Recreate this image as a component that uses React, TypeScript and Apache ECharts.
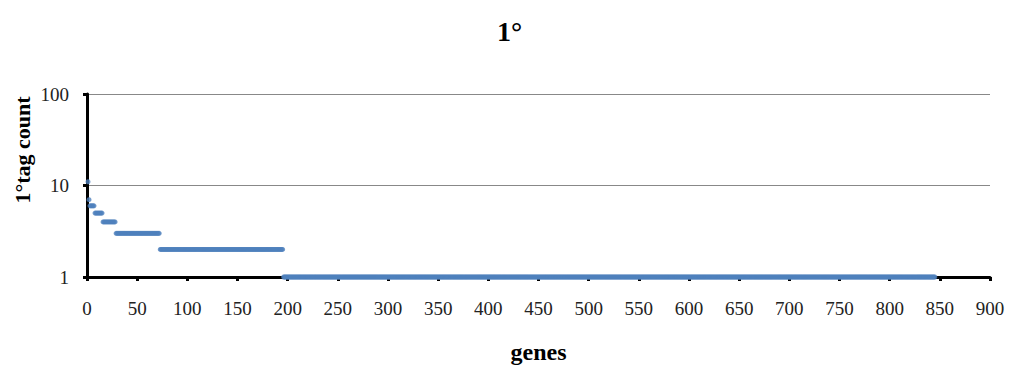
import React, { useEffect, useRef } from "react";
import * as echarts from "echarts";

// Tag-count runs: genes ranked by count
const runCounts = [11, 7, 6, 5, 4, 3, 2, 1];
const runFirstRank = [1, 2, 3, 8, 16, 29, 73, 196];
const runLastRank = [1, 2, 7, 15, 28, 72, 195, 845];
const xTicks = [0, 50, 100, 150, 200, 250, 300, 350, 400, 450, 500, 550, 600, 650, 700, 750, 800, 850, 900];
const yTicks = [1, 10, 100];

export default function App() {
  const ref = useRef<HTMLDivElement>(null);
  useEffect(() => {
    if (!ref.current) return;
    const chart = echarts.init(ref.current, null, { renderer: "svg" });
    const points: number[][] = [];
    runCounts.forEach((c, i) => {
      for (let r = runFirstRank[i]; r <= runLastRank[i]; r++) points.push([r, c]);
    });
    const serif = "'Liberation Serif', 'Times New Roman', serif";
    chart.setOption({
      animation: false,
      backgroundColor: "#ffffff",
      title: {
        text: "1°",
        left: 492,
        top: 12,
        textStyle: { fontFamily: serif, fontSize: 28, fontWeight: "bold", color: "#000" },
      },
      graphic: [
        {
          type: "text",
          x: 22,
          y: 150,
          rotation: Math.PI / 2,
          style: {
            text: "1°tag count",
            fontFamily: serif,
            fontSize: 22,
            fontWeight: "bold",
            fill: "#000",
            align: "center",
            verticalAlign: "middle",
          },
        },
      ],
      grid: { left: 87, right: 21, top: 94, bottom: 93, containLabel: false },
      xAxis: {
        type: "value",
        min: xTicks[0],
        max: xTicks[xTicks.length - 1],
        interval: 50,
        name: "genes",
        nameLocation: "middle",
        nameGap: 63,
        nameTextStyle: { fontFamily: serif, fontSize: 24, fontWeight: "bold", color: "#000" },
        axisLine: { lineStyle: { color: "#000", width: 3 } },
        axisTick: { show: true, length: 4, lineStyle: { color: "#000", width: 3 } },
        axisLabel: { fontFamily: serif, fontSize: 19, color: "#222", margin: 22 },
        splitLine: { show: false },
      },
      yAxis: {
        type: "log",
        logBase: 10,
        min: yTicks[0],
        max: yTicks[yTicks.length - 1],
        axisLine: { lineStyle: { color: "#000", width: 3 } },
        axisTick: { show: true, length: 4, lineStyle: { color: "#000", width: 3 } },
        axisLabel: { fontFamily: serif, fontSize: 19, color: "#222", margin: 18 },
        splitLine: { show: true, lineStyle: { color: "#888", width: 1 } },
        minorTick: { show: false },
      },
      series: [
        {
          type: "scatter",
          data: points,
          symbol: "circle",
          symbolSize: 5,
          itemStyle: { color: "#4F81BD" },
        },
      ],
    });
    return () => chart.dispose();
  }, []);
  return (
    <div
      ref={ref}
      style={{ position: "absolute", left: 0, top: 0, width: 1011, height: 370 }}
    />
  );
}
